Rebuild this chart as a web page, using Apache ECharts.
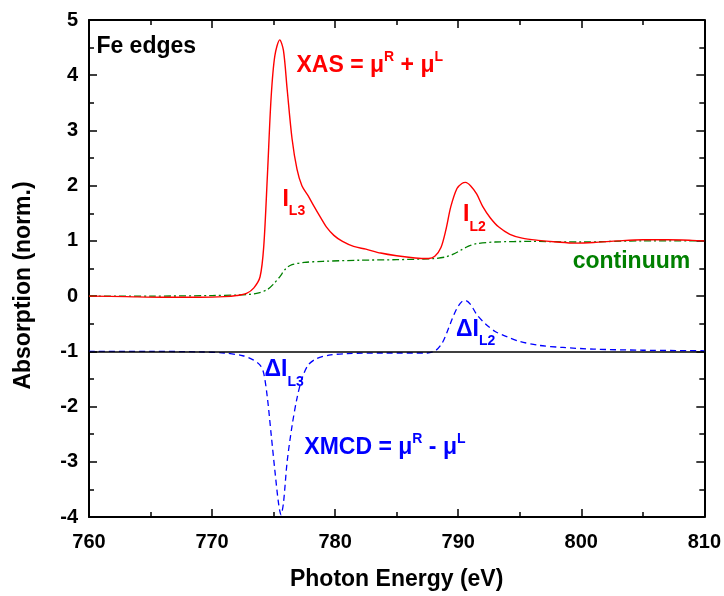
<!DOCTYPE html>
<html>
<head>
<meta charset="utf-8">
<script src="https://cdn.jsdelivr.net/npm/echarts@6/dist/echarts.min.js"></script>
<style>html,body{margin:0;padding:0;background:#fff}#c{width:724px;height:596px}</style>
</head>
<body>
<div id="c"></div>
<script>
// XAS (red solid)
const xasE = [760,763,766,769,771,772,772.8,773.4,773.9,774.2,774.5,774.8,775.1,775.5,775.8,776.1,776.5,776.9,777.3,777.8,778.3,778.8,779.3,779.9,780.6,781.5,782.5,783.7,785,786.5,787.6,788.1,788.6,789.0,789.4,789.9,790.3,790.6,791.0,791.5,792.0,792.6,793.3,794.2,795.2,796.5,798,799.5,801,803,805,807,809,810];
const xasV = [0.0,-0.01,-0.02,-0.02,-0.01,0.01,0.05,0.15,0.35,0.9,2.2,3.6,4.35,4.64,4.45,3.75,2.85,2.3,2.0,1.82,1.62,1.43,1.25,1.10,0.99,0.9,0.85,0.78,0.73,0.69,0.68,0.72,0.88,1.2,1.62,1.95,2.04,2.06,2.0,1.85,1.62,1.42,1.25,1.12,1.05,1.01,0.98,0.96,0.97,1.0,1.02,1.02,1.01,1.0];
// continuum (green dash-dot)
const contE = [760,765,770,772,773,773.8,774.5,775,775.5,776,776.5,777.5,779,782,785,788,789,789.6,790.2,790.8,791.5,793,796,800,805,810];
const contV = [0,0,0.01,0.02,0.03,0.06,0.12,0.22,0.35,0.5,0.57,0.61,0.63,0.65,0.66,0.68,0.71,0.76,0.83,0.9,0.95,0.98,0.99,0.98,1.0,1.0];
// XMCD (blue dashed)
const xmcdE = [760,765,769,771,772.5,773.3,773.9,774.2,774.5,774.8,775.1,775.4,775.6,775.8,776.1,776.5,776.9,777.3,777.8,778.5,779.5,781,784,787.5,788.2,788.7,789.1,789.5,789.9,790.3,790.6,791,791.5,792.2,793,794,795,796.5,798.5,801,805,810];
const xmcdV = [-1,-1.0,-1.01,-1.03,-1.08,-1.15,-1.25,-1.4,-1.85,-2.5,-3.15,-3.75,-3.96,-3.75,-3.0,-2.35,-1.85,-1.5,-1.25,-1.13,-1.07,-1.04,-1.03,-1.03,-0.98,-0.85,-0.65,-0.42,-0.22,-0.1,-0.08,-0.15,-0.33,-0.5,-0.64,-0.74,-0.82,-0.89,-0.93,-0.96,-0.98,-0.99];
// reference line
const baseline = -1;
// axis ticks
const xTicks = [760,770,780,790,800,810];
const yTicks = [-4,-3,-2,-1,0,1,2,3,4,5];
// annotations
const annoText = ['Fe edges','XAS = μR + μL','IL3','IL2','continuum','ΔIL3','ΔIL2','XMCD = μR - μL'];
const annoX = [760.6,776.86,775.72,790.39,799.3,774.26,789.82,777.5];
const annoY = [4.52,4.18,1.75,1.47,0.62,-1.34,-0.60,-2.74];

const FONT = '"Liberation Sans", Arial, sans-serif';
const zip = (a,b) => a.map((v,i)=>[v,b[i]]);

const supRich = (color) => ({
  m:{fontSize:23,fontWeight:'bold',color,fontFamily:FONT,lineHeight:30},
  s:{fontSize:14,fontWeight:'bold',color,fontFamily:FONT,lineHeight:14,verticalAlign:'top'}
});
const subRich = (color) => ({
  m:{fontSize:23,fontWeight:'bold',color,fontFamily:FONT,lineHeight:38},
  s:{fontSize:14,fontWeight:'bold',color,fontFamily:FONT,lineHeight:14,verticalAlign:'bottom'}
});
const annoFmt = [
  {f:'{m|Fe edges}', c:'#000000', r:supRich},
  {f:'{m|XAS = μ}{s|R}{m| + μ}{s|L}', c:'#ff0000', r:supRich},
  {f:'{m|I}{s|L3}', c:'#ff0000', r:subRich},
  {f:'{m|I}{s|L2}', c:'#ff0000', r:subRich},
  {f:'{m|continuum}', c:'#008000', r:supRich},
  {f:'{m|ΔI}{s|L3}', c:'#0000ff', r:subRich},
  {f:'{m|ΔI}{s|L2}', c:'#0000ff', r:subRich},
  {f:'{m|XMCD = μ}{s|R}{m| - μ}{s|L}', c:'#0000ff', r:supRich}
];
const annoData = annoText.map((t,i)=>({
  value:[annoX[i],annoY[i]],
  name:t,
  label:{formatter:annoFmt[i].f, rich:annoFmt[i].r(annoFmt[i].c)}
}));

const axisCommon = {
  axisLine:{onZero:false,lineStyle:{color:'#000',width:2}},
  axisTick:{inside:true,length:8,lineStyle:{color:'#000',width:1.5}},
  minorTick:{show:true,splitNumber:2,length:5,lineStyle:{color:'#000',width:1.5}},
  splitLine:{show:false}
};

const chart = echarts.init(document.getElementById('c'),null,{renderer:'canvas'});
chart.setOption({
  animation:false,
  backgroundColor:'#fff',
  grid:{left:89,right:18,top:20,bottom:76,containLabel:false},
  xAxis:[
    Object.assign({type:'value',position:'bottom',min:xTicks[0],max:xTicks[xTicks.length-1],interval:10,
      name:'Photon Energy (eV)',nameLocation:'middle',nameGap:51,
      nameTextStyle:{fontSize:23,fontWeight:'bold',color:'#000',fontFamily:FONT},
      axisLabel:{fontSize:20,fontWeight:'bold',color:'#000',fontFamily:FONT,margin:15}},axisCommon),
    Object.assign({type:'value',position:'top',min:xTicks[0],max:xTicks[xTicks.length-1],interval:10,
      axisLabel:{show:false}},axisCommon)
  ],
  yAxis:[
    Object.assign({type:'value',position:'left',min:yTicks[0],max:yTicks[yTicks.length-1],interval:1,
      name:'Absorption (norm.)',nameLocation:'middle',nameGap:54,nameRotate:90,
      nameTextStyle:{fontSize:23,fontWeight:'bold',color:'#000',fontFamily:FONT,padding:[0,34,0,0]},
      axisLabel:{fontSize:20,fontWeight:'bold',color:'#000',fontFamily:FONT,margin:11}},axisCommon),
    Object.assign({type:'value',position:'right',min:yTicks[0],max:yTicks[yTicks.length-1],interval:1,
      axisLabel:{show:false}},axisCommon)
  ],
  series:[
    {type:'line',name:'continuum',data:zip(contE,contV),showSymbol:false,smooth:0.3,
      lineStyle:{color:'#008000',width:1.3,type:[7,3,2,3]},z:3},
    {type:'line',name:'XAS',data:zip(xasE,xasV),showSymbol:false,smooth:0.3,
      lineStyle:{color:'#ff0000',width:1.4},z:4},
    {type:'line',name:'XMCD',data:zip(xmcdE,xmcdV),showSymbol:false,smooth:0.3,
      lineStyle:{color:'#0000ff',width:1.3,type:[6,4]},z:4,
      markLine:{silent:true,symbol:'none',label:{show:false},
        lineStyle:{color:'#000',width:1.5,type:'solid'},data:[{yAxis:baseline}]}},
    {type:'scatter',name:'annotations',data:annoData,symbolSize:0,silent:true,z:10,
      itemStyle:{opacity:1},
      label:{show:true,position:'right',distance:0,opacity:1}}
  ]
});
</script>
</body>
</html>
